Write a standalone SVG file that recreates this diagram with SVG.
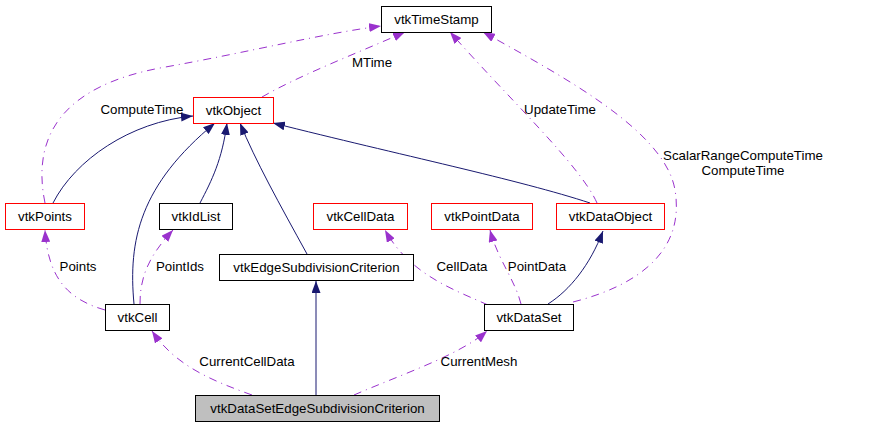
<svg xmlns="http://www.w3.org/2000/svg" width="869" height="427" viewBox="0 0 869 427">
<style>
text{font-family:"Liberation Sans",Arial,sans-serif;font-size:13.3px;fill:#000;text-anchor:middle}
.box{fill:#fff;stroke:#000;stroke-width:1}
.red{fill:#fff;stroke:#ff0000;stroke-width:1}
.cur{fill:#bfbfbf;stroke:#000;stroke-width:1}
.inh{fill:none;stroke:#191970;stroke-width:1;marker-end:url(#an)}
.use{fill:none;stroke:#9a32cd;stroke-width:1;stroke-dasharray:8,5,1,5;marker-end:url(#ap)}
</style>
<defs>
<marker id="an" viewBox="0 0 12 9" refX="12" refY="4.5" markerWidth="12" markerHeight="9" markerUnits="userSpaceOnUse" orient="auto"><path d="M0,0 L12,4.5 L0,9 z" fill="#191970"/></marker>
<marker id="ap" viewBox="0 0 12 9" refX="12" refY="4.5" markerWidth="12" markerHeight="9" markerUnits="userSpaceOnUse" orient="auto"><path d="M0,0 L12,4.5 L0,9 z" fill="#9a32cd"/></marker>
</defs>
<g id="connectors">
<path class="inh" d="M53,203 C 75,160 130,122 193,116"/>
<path class="inh" d="M134,304 C 128,240 140,185 215,123"/>
<path class="inh" d="M200,203 C 212,180 222,160 227,123"/>
<path class="inh" d="M307,254 C 280,205 255,160 240,123"/>
<path class="inh" d="M590,203 C 520,180 400,155 273,123"/>
<path class="inh" d="M548,304 C 570,290 590,265 603,231"/>
<path class="inh" d="M316,395 L316,281"/>
<path class="use" d="M45,203 C 30,130 70,85 160,68 C 250,52 320,34 381,26"/>
<path class="use" d="M262,97 C 300,75 360,52 405,32"/>
<path class="use" d="M597,203 C 580,165 510,100 450,32"/>
<path class="use" d="M573,302 C 640,285 685,250 675,190 C 665,130 560,75 483,32"/>
<path class="use" d="M105,310 C 70,300 48,280 45,230"/>
<path class="use" d="M140,304 C 140,275 150,255 173,230"/>
<path class="use" d="M488,305 C 455,290 410,275 385,230"/>
<path class="use" d="M521,304 C 515,280 498,260 490,230"/>
<path class="use" d="M252,395 C 210,380 175,365 152,331"/>
<path class="use" d="M354,395 C 400,375 460,355 487,331"/>
<text x="142" y="114">ComputeTime</text>
<text x="372" y="67">MTime</text>
<text x="560" y="114">UpdateTime</text>
<text x="743" y="160">ScalarRangeComputeTime</text>
<text x="743" y="175">ComputeTime</text>
<text x="78" y="271">Points</text>
<text x="180" y="271">PointIds</text>
<text x="462" y="271">CellData</text>
<text x="537" y="271">PointData</text>
<text x="247" y="366">CurrentCellData</text>
<text x="479" y="366">CurrentMesh</text>
</g>
<g id="vtkTimeStamp"><rect class="box" x="381.5" y="6.5" width="110" height="26"/><text x="436.5" y="24">vtkTimeStamp</text></g>
<g id="vtkObject"><rect class="red" x="193.5" y="97.5" width="80" height="26"/><text x="233.5" y="115">vtkObject</text></g>
<g id="vtkPoints"><rect class="red" x="5.5" y="203.5" width="79" height="26"/><text x="45" y="221">vtkPoints</text></g>
<g id="vtkIdList"><rect class="box" x="159.5" y="203.5" width="73" height="26"/><text x="196" y="221">vtkIdList</text></g>
<g id="vtkCellData"><rect class="red" x="313.5" y="203.5" width="94" height="26"/><text x="360.5" y="221">vtkCellData</text></g>
<g id="vtkPointData"><rect class="red" x="431.5" y="203.5" width="101" height="26"/><text x="482" y="221">vtkPointData</text></g>
<g id="vtkDataObject"><rect class="red" x="556.5" y="203.5" width="108" height="26"/><text x="610.5" y="221">vtkDataObject</text></g>
<g id="vtkEdgeSubdivisionCriterion"><rect class="box" x="219.5" y="254.5" width="194" height="26"/><text x="316.5" y="272">vtkEdgeSubdivisionCriterion</text></g>
<g id="vtkCell"><rect class="box" x="105.5" y="304.5" width="64" height="26"/><text x="137.5" y="322">vtkCell</text></g>
<g id="vtkDataSet"><rect class="box" x="484.5" y="304.5" width="89" height="26"/><text x="529" y="322">vtkDataSet</text></g>
<g id="vtkDataSetEdgeSubdivisionCriterion"><rect class="cur" x="195.5" y="395.5" width="244" height="26"/><text x="317.5" y="413">vtkDataSetEdgeSubdivisionCriterion</text></g>
</svg>
